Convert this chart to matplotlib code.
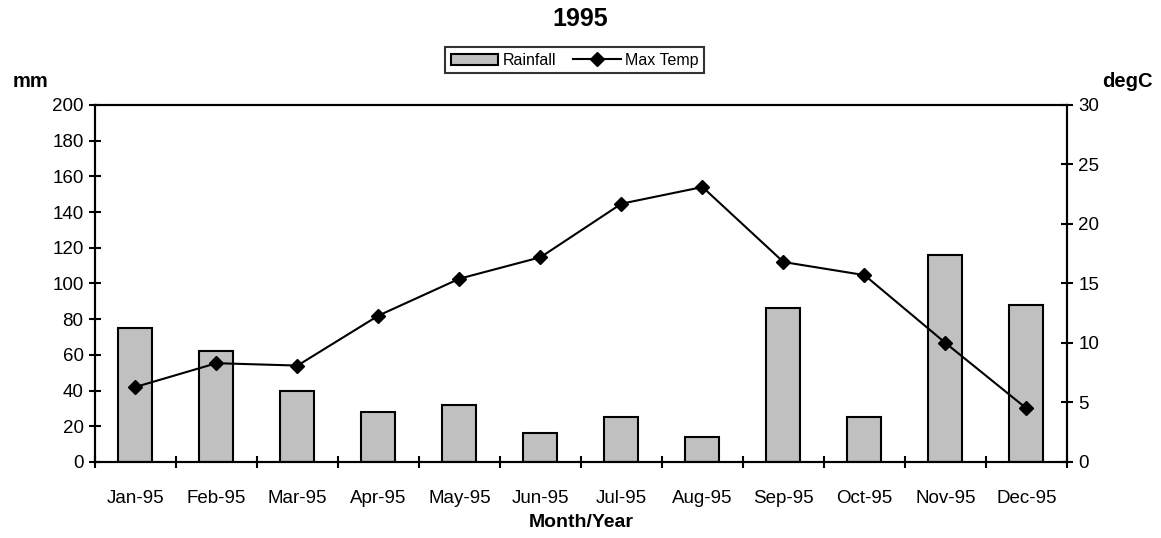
import matplotlib.pyplot as plt
import numpy as np

plt.rcParams['font.family'] = ['Liberation Sans', 'DejaVu Sans']

months = ["Jan-95", "Feb-95", "Mar-95", "Apr-95", "May-95", "Jun-95",
          "Jul-95", "Aug-95", "Sep-95", "Oct-95", "Nov-95", "Dec-95"]
rainfall = [75, 62, 40, 28, 32, 16, 25, 14, 86, 25, 116, 88]
max_temp = [6.3, 8.3, 8.1, 12.3, 15.4, 17.2, 21.7, 23.1, 16.8, 15.7, 10.0, 4.5]

fig = plt.figure(figsize=(11.61, 5.38), dpi=100)
ax = fig.add_axes([0.0818, 0.1413, 0.8372, 0.6637])
ax2 = ax.twinx()

x = np.arange(len(months))
bars = ax.bar(x, rainfall, width=0.42, color='#c0c0c0', edgecolor='black',
              linewidth=1.5, label='Rainfall', zorder=2)
line, = ax2.plot(x, max_temp, color='black', linewidth=1.5, marker='D',
                 markersize=7, label='Max Temp', zorder=3)

ax.set_xlim(-0.5, len(months) - 0.5)
ax.set_ylim(0, 200)
ax.set_yticks(range(0, 201, 20))
ax2.set_ylim(0, 30)
ax2.set_yticks(range(0, 31, 5))

ax.set_xticks(x)
ax.set_xticklabels(months)
ax.set_xticks(np.arange(-0.5, len(months), 1), minor=True)
ax.tick_params(axis='x', which='major', length=0, labelsize=13.5, pad=20)
ax.tick_params(axis='x', which='minor', direction='inout', length=8.5, width=1.5)
ax.tick_params(axis='y', direction='inout', length=8.5, width=1.5, labelsize=13.5, pad=4)
ax2.tick_params(axis='y', direction='inout', length=8.5, width=1.5, labelsize=13.5, pad=4)

for a in (ax, ax2):
    for s in a.spines.values():
        s.set_linewidth(1.5)

ax.set_xlabel("Month/Year", fontsize=14, fontweight='bold', labelpad=5)
fig.text(0.011, 0.848, "mm", fontsize=14.5, fontweight='bold', ha='left', va='center')
fig.text(0.949, 0.848, "degC", fontsize=14.5, fontweight='bold', ha='left', va='center')
fig.text(0.5, 0.965, "1995", fontsize=18, fontweight='bold', ha='center', va='center')

leg = fig.legend([bars, line], ['Rainfall', 'Max Temp'], loc='center',
                 bbox_to_anchor=(0.495, 0.888), ncol=2, fontsize=11.5,
                 frameon=True, fancybox=False, edgecolor='black',
                 handlelength=3, handletextpad=0.3, columnspacing=1.0,
                 borderpad=0.35)
leg.get_frame().set_linewidth(1.5)

fig.savefig("out.png", dpi=100)
